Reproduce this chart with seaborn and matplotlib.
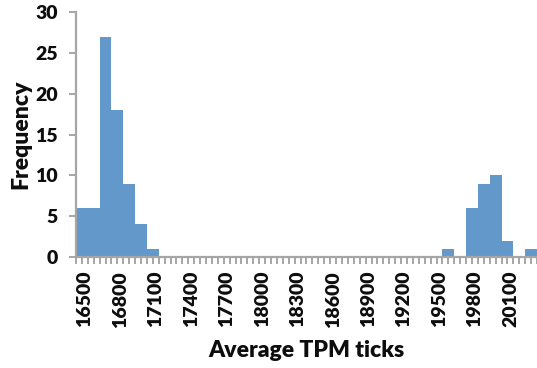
import numpy as np
import pandas as pd
import matplotlib
matplotlib.use("Agg")
import matplotlib.pyplot as plt
import seaborn as sns

# ---- data ----
bin_centers = [16475, 16575, 16675, 16775, 16875, 16975, 17075,
               19575, 19775, 19875, 19975, 20075, 20275]
counts = [6, 6, 27, 18, 9, 4, 1,
          1, 6, 9, 10, 2, 1]
xtick_values = [16500, 16800, 17100, 17400, 17700, 18000, 18300,
                18600, 18900, 19200, 19500, 19800, 20100]
ytick_values = [0, 5, 10, 15, 20, 25, 30]
x_label = "Average TPM ticks"
y_label = "Frequency"

# ---- style ----
sns.set_style("white")
plt.rcParams["font.family"] = ["Lato", "DejaVu Sans"]
bar_color = "#6398CA"
axis_grey = "#A6A6A6"
text_color = "#0d0d0d"
weight = "heavy"

fig = plt.figure(figsize=(5.37, 3.68), dpi=100)
ax = fig.add_axes([76 / 537, 1 - 257 / 368, (537 - 76) / 537, (257 - 12) / 368])

df = pd.DataFrame({"tpm": bin_centers, "freq": counts})
sns.histplot(data=df, x="tpm", weights="freq", binwidth=100,
             binrange=(16425, 20325), ax=ax,
             color=bar_color, alpha=1.0, linewidth=0, element="bars")

ax.set_xlim(16425, 20325)
ax.set_ylim(0, 30)

# x axis: labels at category centres, tick marks at category boundaries
ax.set_xticks(xtick_values)
ax.set_xticklabels([str(v) for v in xtick_values], rotation=90,
                   fontsize=14, fontweight=weight, color=text_color)
ax.set_xticks(np.arange(16425, 20326, 50), minor=True)
ax.tick_params(axis="x", which="major", length=0, pad=10)
ax.tick_params(axis="x", which="minor", length=5, width=1.4,
               color=axis_grey, direction="out", bottom=True)

ax.set_yticks(ytick_values)
ax.set_yticklabels([str(v) for v in ytick_values], fontsize=14,
                   fontweight=weight, color=text_color)
ax.tick_params(axis="y", which="major", length=5, width=1.4,
               color=axis_grey, direction="out", left=True, pad=8)

for side in ["top", "right"]:
    ax.spines[side].set_visible(False)
for side in ["left", "bottom"]:
    ax.spines[side].set_color(axis_grey)
    ax.spines[side].set_linewidth(1.6)

ax.set_xlabel(x_label, fontsize=16.5, fontweight=weight, color=text_color, labelpad=9)
ax.set_ylabel(y_label, fontsize=16.5, fontweight=weight, color=text_color, labelpad=3)

fig.savefig("out.png", dpi=100)
